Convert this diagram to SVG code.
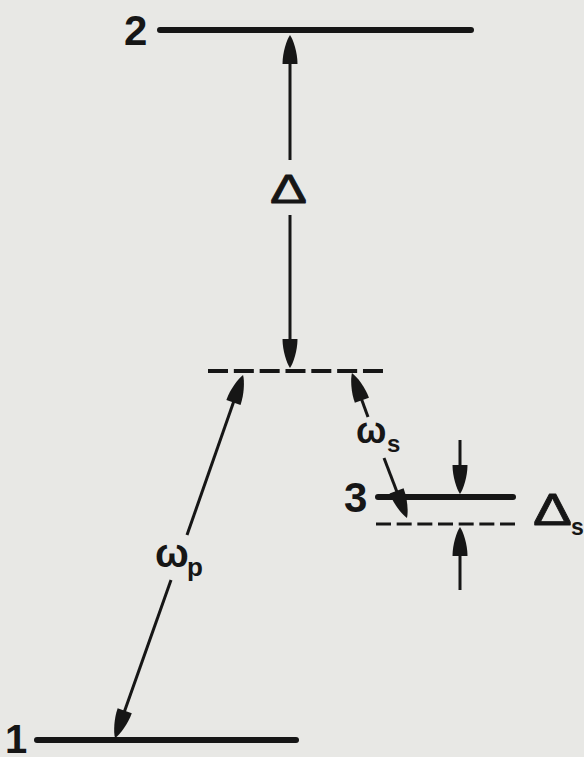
<svg xmlns="http://www.w3.org/2000/svg" width="584" height="757" viewBox="0 0 584 757">
<style>
.lvl{stroke:#161616;stroke-width:6;stroke-linecap:round;fill:none}
.dash{stroke:#161616;fill:none}
.arr{stroke:#161616;stroke-width:3;fill:none;marker-end:url(#ah)}
.lbl{font-family:"Liberation Sans",Arial,sans-serif;font-weight:bold;fill:#161616}
.tri{font-family:"Liberation Sans",Arial,sans-serif;font-weight:normal;fill:#161616;stroke:#161616;stroke-width:0.8;stroke-linejoin:round}
</style>
<defs>
<marker id="ah" markerUnits="userSpaceOnUse" viewBox="0 -9 32 18" refX="22" refY="0" markerWidth="32" markerHeight="18" orient="auto">
<path d="M30,0 C25,-3.5 12,-7.5 1,-7.5 L1,7.5 C12,7.5 25,3.5 30,0 Z" fill="#161616"/>
</marker>
</defs>
<rect x="0" y="0" width="584" height="757" fill="#e8e8e5"/>
<g id="level2"><line class="lvl" x1="160" y1="30" x2="471" y2="30"/><text class="lbl" x="124" y="45" font-size="42">2</text></g>
<g id="virtual"><line class="dash" x1="208" y1="371" x2="383" y2="371" stroke-width="4" stroke-dasharray="20 5.83"/></g>
<g id="level3"><line class="lvl" x1="378" y1="497" x2="513" y2="497"/><text class="lbl" x="344" y="512" font-size="42">3</text></g>
<g id="level3shift"><line class="dash" x1="376" y1="524" x2="515" y2="524" stroke-width="3" stroke-dasharray="15 5.67"/></g>
<g id="level1"><line class="lvl" x1="37" y1="740" x2="296" y2="740"/><text class="lbl" x="5" y="753" font-size="40">1</text></g>
<g id="connectors">
<line class="arr" x1="290" y1="160" x2="290" y2="43"/>
<line class="arr" x1="290" y1="215" x2="290" y2="360"/>
<line class="arr" x1="187" y1="535" x2="240.4" y2="382.6"/>
<line class="arr" x1="171" y1="580" x2="117.7" y2="730.5"/>
<line class="arr" x1="368" y1="417" x2="354.7" y2="380.5"/>
<line class="arr" x1="384" y1="458" x2="404.1" y2="510.5"/>
<line class="arr" x1="460" y1="440" x2="460" y2="486"/>
<line class="arr" x1="460" y1="590" x2="460" y2="535"/>
</g>
<g id="labels">
<text class="tri" x="270" y="203" font-size="41" textLength="37" lengthAdjust="spacingAndGlyphs">Δ</text>
<text class="lbl" x="155" y="567" font-size="40">ω</text><text class="lbl" x="187" y="576" font-size="26">p</text>
<text class="lbl" x="356" y="443" font-size="36">ω</text><text class="lbl" x="387" y="452" font-size="24">s</text>
<text class="tri" x="533" y="525" font-size="45" textLength="39" lengthAdjust="spacingAndGlyphs">Δ</text><text class="lbl" x="571" y="535" font-size="23">s</text>
</g>
</svg>
